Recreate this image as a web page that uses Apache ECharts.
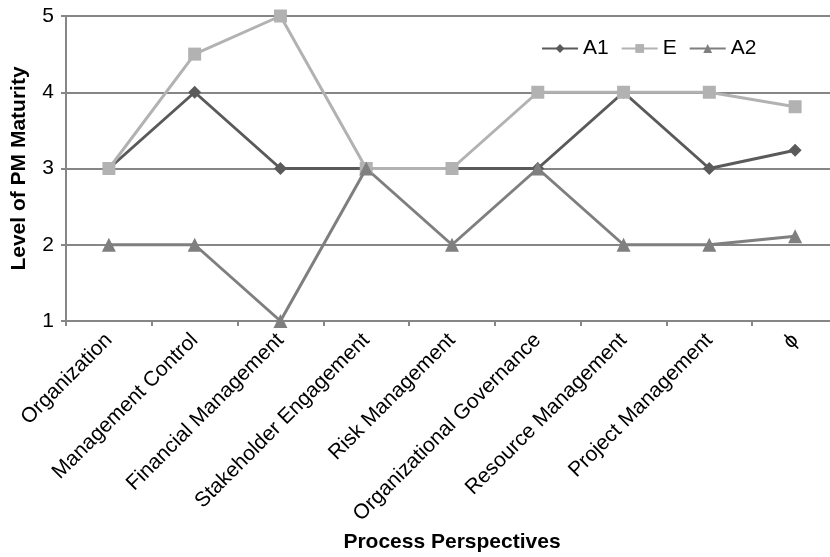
<!DOCTYPE html>
<html>
<head>
<meta charset="utf-8">
<script src="https://cdn.jsdelivr.net/npm/echarts@6/dist/echarts.min.js"></script>
<style>
  html, body { margin: 0; padding: 0; background: #fff; }
  #chart { width: 830px; height: 557px; }
</style>
</head>
<body>
<div id="chart"></div>
<script>
// Process perspectives on the category axis
const categories = [
  'Organization', 'Management Control', 'Financial Management',
  'Stakeholder Engagement', 'Risk Management', 'Organizational Governance',
  'Resource Management', 'Project Management', '\u03D5'
];
// Maturity levels per perspective
const seriesA1 = [3, 4, 3, 3, 3, 3, 4, 3, 3.24];
const seriesE  = [3, 4.5, 5, 3, 3, 4, 4, 4, 3.81];
const seriesA2 = [2, 2, 1, 3, 2, 3, 2, 2, 2.11];
const yTicks = [1, 2, 3, 4, 5];

const FONT = '"Liberation Sans", Arial, sans-serif';
const AXIS_GRAY = '#868686';

const chart = echarts.init(document.getElementById('chart'), null, { renderer: 'canvas' });

function lineSeries(name, data, color, symbol, size) {
  return {
    name: name,
    type: 'line',
    data: data,
    symbol: symbol,
    symbolSize: size,
    showAllSymbol: true,
    lineStyle: { color: color, width: 3 },
    itemStyle: { color: color },
    emphasis: { disabled: true },
    animation: false
  };
}

chart.setOption({
  animation: false,
  textStyle: { fontFamily: FONT },
  // plot runs slightly past the right edge of the canvas
  grid: { left: 66, width: 772, top: 16, bottom: 236, outerBoundsMode: 'none', containLabel: false },
  legend: {
    top: 33,
    left: 536,
    itemWidth: 36,
    itemHeight: 11,
    itemGap: 12,
    textStyle: { fontSize: 21, color: '#000', fontFamily: FONT },
    data: ['A1', 'E', 'A2']
  },
  xAxis: {
    type: 'category',
    data: categories,
    boundaryGap: true,
    name: 'Process Perspectives',
    nameLocation: 'middle',
    nameGap: 211,
    nameMoveOverlap: false,
    nameTextStyle: { fontSize: 21, fontWeight: 'bold', color: '#000', fontFamily: FONT },
    axisLine: { lineStyle: { color: AXIS_GRAY, width: 2 } },
    axisTick: { show: true, length: 5, lineStyle: { color: AXIS_GRAY, width: 2 } },
    axisLabel: { rotate: 45, fontSize: 21, color: '#000', margin: 16, interval: 0, fontFamily: FONT },
    splitLine: { show: false }
  },
  yAxis: {
    type: 'value',
    min: yTicks[0],
    max: yTicks[yTicks.length - 1],
    interval: 1,
    name: 'Level of PM Maturity',
    nameLocation: 'middle',
    nameGap: 36,
    nameMoveOverlap: false,
    nameTextStyle: { fontSize: 21, fontWeight: 'bold', color: '#000', fontFamily: FONT },
    axisLine: { show: true, lineStyle: { color: AXIS_GRAY, width: 2 } },
    axisTick: { show: true, length: 5, lineStyle: { color: AXIS_GRAY, width: 2 } },
    axisLabel: { fontSize: 21, color: '#000', margin: 12, fontFamily: FONT },
    splitLine: { show: true, lineStyle: { color: AXIS_GRAY, width: 2 } }
  },
  series: [
    lineSeries('A1', seriesA1, '#5a5a5a', 'diamond', 13),
    lineSeries('E', seriesE, '#b2b2b2', 'rect', 13),
    lineSeries('A2', seriesA2, '#7f7f7f', 'triangle', 14)
  ]
});
</script>
</body>
</html>
